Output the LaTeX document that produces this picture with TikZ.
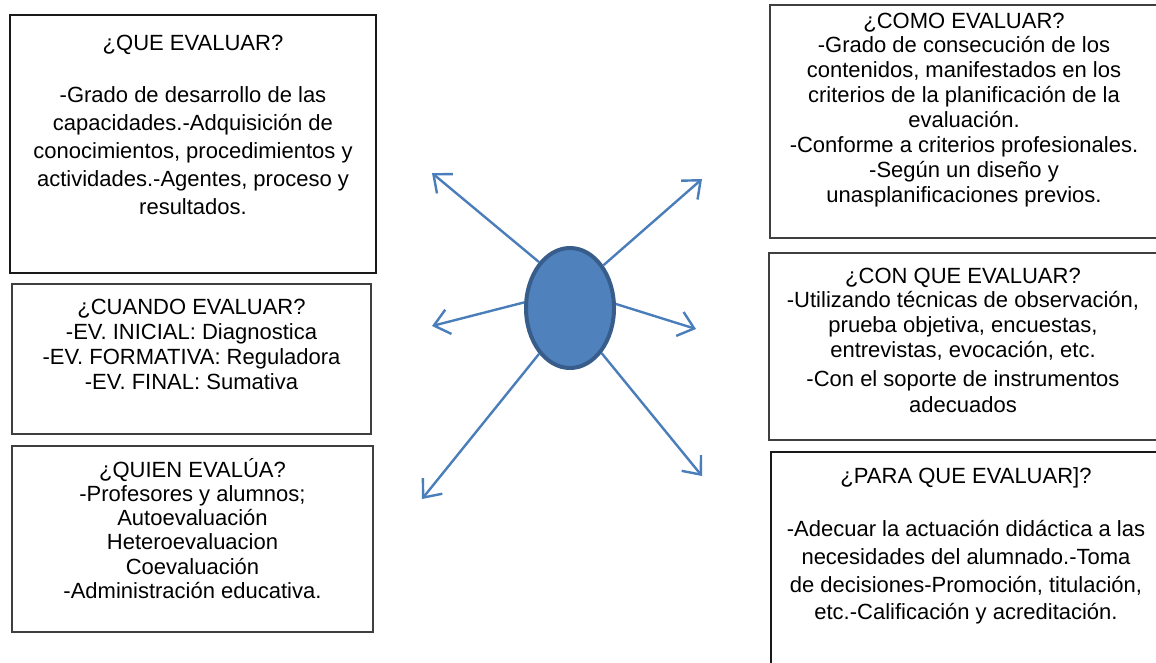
\documentclass[tikz,border=0pt]{standalone}
\usepackage{fontspec}
\setmainfont{Liberation Sans}
\usetikzlibrary{arrows.meta,shapes.geometric}
\definecolor{arrblue}{HTML}{4A7EBB}
\definecolor{ellfill}{HTML}{4F81BD}
\definecolor{elldraw}{HTML}{385D8A}
\definecolor{boxgray}{HTML}{3F3F3F}
\tikzset{
  box/.style={draw=boxgray, line width=1.3pt, rectangle, inner sep=0pt},
  boxdark/.style={draw=black!90, line width=1.6pt, rectangle, inner sep=0pt},
  txt/.style={align=center, anchor=base, inner sep=0pt, font=\fontsize{22}{25}\selectfont},
  txtwide/.style={align=center, anchor=base, inner sep=0pt, font=\fontsize{22}{28}\selectfont},
  arr/.style={draw=arrblue, line width=2.4pt, -{Straight Barb[length=15pt,width=25pt]}},
  hub/.style={ellipse, fill=ellfill, draw=elldraw, line width=4pt, minimum width=88pt, minimum height=120pt, inner sep=0pt}
}
\begin{document}
\begin{tikzpicture}[x=1pt,y=-1pt]
\useasboundingbox (0,0) rectangle (1156,662);
\clip (0,0) rectangle (1156,662);
\fill[white] (0,0) rectangle (1156,662);
% left boxes
\node[boxdark, minimum width=366pt, minimum height=258pt] (b1) at (193,144) {};
\node[box, minimum width=359pt, minimum height=150pt] (b2) at (191.5,359) {};
\node[box, minimum width=361pt, minimum height=186pt] (b3) at (192.5,539) {};
% right boxes
\node[box, minimum width=388pt, minimum height=233pt] (b4) at (964,121.5) {};
\node[box, minimum width=389pt, minimum height=187pt] (b5) at (963.5,346.5) {};
\node[boxdark, minimum width=390pt, minimum height=268pt] (b6) at (966,586) {};
% texts (anchor = baseline of the last line)
\node[txtwide] (t1) at (193,214) {¿QUE EVALUAR?\\[24pt]-Grado de desarrollo de las\\capacidades.-Adquisición de\\conocimientos, procedimientos y\\actividades.-Agentes, proceso y\\resultados.};
\node[txt] (t2) at (191.5,389) {¿CUANDO EVALUAR?\\-EV. INICIAL: Diagnostica\\-EV. FORMATIVA: Reguladora\\-EV. FINAL: Sumativa};
\node[txt, font=\fontsize{22}{24.3}\selectfont] (t3) at (192.5,598.5) {¿QUIEN EVALÚA?\\-Profesores y alumnos;\\Autoevaluación\\Heteroevaluacion\\Coevaluación\\-Administración educativa.};
\node[txt, font=\fontsize{22}{24.9}\selectfont] (t4) at (964,202.3) {¿COMO EVALUAR?\\-Grado de consecución de los\\contenidos, manifestados en los\\criterios de la planificación de la\\evaluación.\\-Conforme a criterios profesionales.\\-Según un diseño y\\unasplanificaciones previos.};
\node[txt, font=\fontsize{22}{24.7}\selectfont] (t5) at (963,412.5) {¿CON QUE EVALUAR?\\-Utilizando técnicas de observación,\\prueba objetiva, encuestas,\\entrevistas, evocación, etc.\\[5pt]-Con el soporte de instrumentos\\[1pt]adecuados};
\node[txt, font=\fontsize{22}{27.7}\selectfont] (t6) at (966,619.8) {¿PARA QUE EVALUAR]?\\[26pt]-Adecuar la actuación didáctica a las\\necesidades del alumnado.-Toma\\de decisiones-Promoción, titulación,\\etc.-Calificación y acreditación.};
% hub
\node[hub] (c) at (570,308) {};
\coordinate (pNW) at (432,173);
\coordinate (pNE) at (702,179);
\coordinate (pW) at (432,326);
\coordinate (pE) at (696,329);
\coordinate (pSW) at (422,499);
\coordinate (pSE) at (702,476);
\draw[arr] (c.124) -- (pNW);
\draw[arr] (c.52) -- (pNE);
\draw[arr] (c.173) -- (pW);
\draw[arr] (c.5) -- (pE);
\draw[arr] (c.236) -- (pSW);
\draw[arr] (c.305) -- (pSE);
\end{tikzpicture}
\end{document}
